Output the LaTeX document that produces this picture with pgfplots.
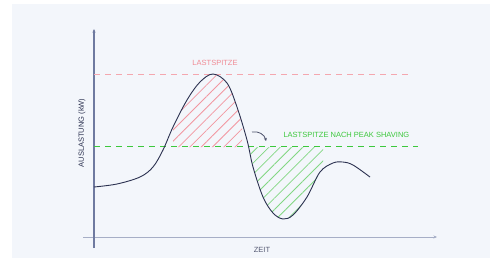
\documentclass[border=0pt]{standalone}
\usepackage{pgfplots}
\pgfplotsset{compat=1.18}
\usetikzlibrary{patterns.meta,arrows.meta}
\usepackage{fontspec}
\setmainfont{Liberation Sans}
\definecolor{panel}{HTML}{F3F6FB}
\definecolor{navy}{HTML}{2B3150}
\definecolor{yaxis}{HTML}{6F7AA0}
\definecolor{xaxis}{HTML}{A6AEC6}
\definecolor{peakred}{HTML}{F08A94}
\definecolor{hatchred}{RGB}{242,150,160}
\definecolor{linegreen}{RGB}{60,200,60}
\definecolor{hatchgreen}{RGB}{130,215,130}
\begin{document}
\begin{tikzpicture}
\useasboundingbox (0pt,0pt) rectangle (490pt,269pt);
\fill[white] (0pt,0pt) rectangle (490pt,269pt);
\fill[panel] (12pt,11pt) rectangle (490pt,265pt);
\begin{axis}[
  at={(94pt,32pt)}, anchor=origin,
  scale only axis, width=354pt, height=219pt,
  xmin=-11, xmax=343, ymin=-11, ymax=208,
  axis lines=middle, xtick=\empty, ytick=\empty, clip=false,
  x axis line style={xaxis, line width=0.9pt, -{Stealth[length=3.5pt,width=3pt]}},
  y axis line style={yaxis, line width=1.3pt, -{Stealth[length=3.5pt,width=3pt]}},
  font=\fontsize{7.5}{9}\selectfont,
]
\addplot[color=linegreen, solid, line width=1.1pt, dash pattern=on 6pt off 5pt] coordinates {(0,90.3) (324,90.3)};
\addplot[color=peakred!75, line width=0.6pt, dash pattern=on 6pt off 5pt] coordinates {(0,163) (314,163)};
\addplot[draw=none, pattern={Lines[angle=45,distance=8pt,line width=0.8pt]}, pattern color=hatchred] coordinates {
(79,90) (79,110) (86,124) (93,137) (100,147) (106,155) (112,160) (119,163) (126,160) (133,154) (138,144) (143,130) (148,114) (148,90)} -- cycle;
\addplot[draw=none, pattern={Lines[angle=45,distance=8pt,line width=0.8pt]}, pattern color=hatchgreen] coordinates {
(155,90) (159,70) (164,54) (169,40) (174,31) (179,24) (184,20) (189,18) (194,19) (199,22) (206,30) (213,40) (220,53) (226,65) (229,69) (229,90)} -- cycle;
\addplot[draw=navy, line width=0.9pt, smooth, tension=0.55] coordinates {
(0,50) (23,53) (46,60) (59,70) (69,87) (79,110) (93,137) (106,155) (119,163) (133,154) (143,130) (153,97) (159,70) (169,40) (179,24) (189,18) (199,22) (213,40) (226,65) (239,74) (249,75) (259,72) (276,60)};
\node[text=peakred] at (axis cs:121,174) {LASTSPITZE};
\node[text=linegreen, anchor=west] at (axis cs:186,102) {LASTSPITZE NACH PEAK SHAVING};
\node[text=navy, rotate=90] at (axis cs:-12,104) {AUSLASTUNG (kW)};
\node[text=navy!80] at (axis cs:168,-13) {ZEIT};
\draw[navy!85, line width=0.8pt, -{Stealth[length=3pt,width=3pt]}] (axis cs:158,105) to[bend left=45] (axis cs:172,96);
\end{axis}
\end{tikzpicture}
\end{document}
